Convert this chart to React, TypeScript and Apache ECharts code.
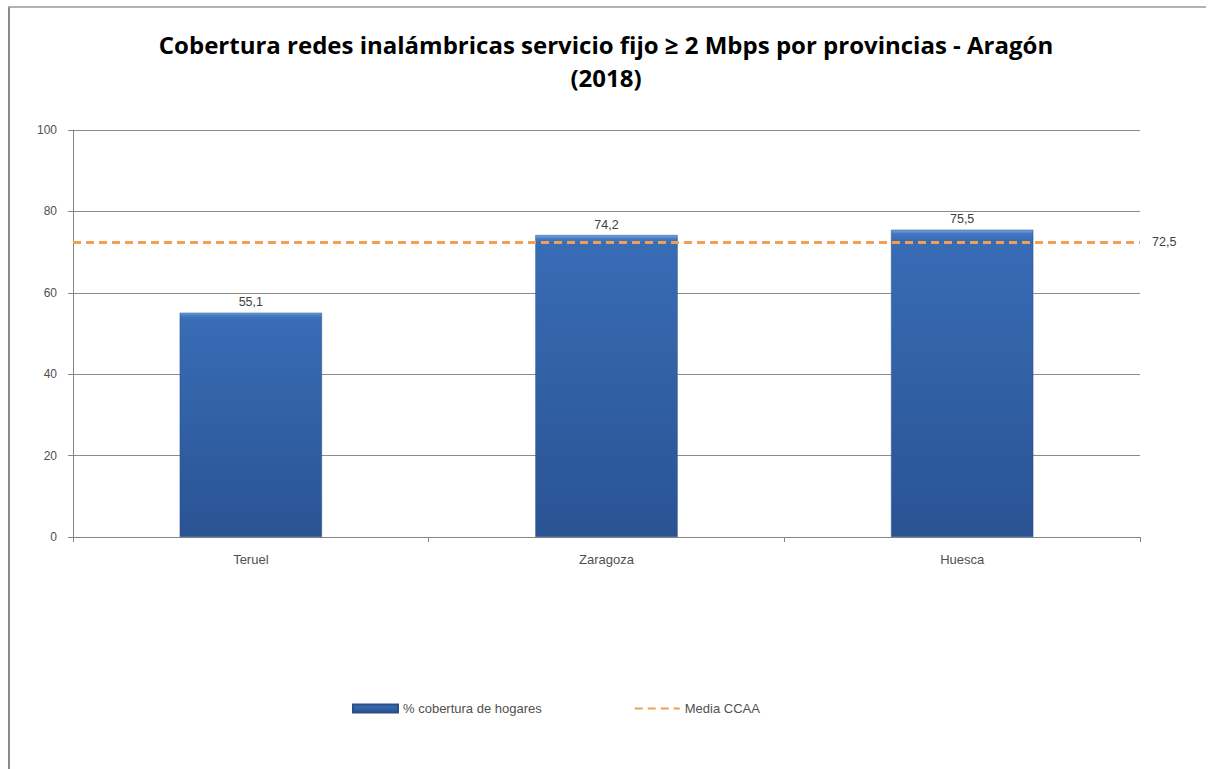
import React, { useEffect, useRef } from "react";
import * as echarts from "echarts";

const titleText = "Cobertura redes inalámbricas servicio fijo ≥ 2 Mbps por provincias - Aragón\n(2018)";
const provincias = ["Teruel", "Zaragoza", "Huesca"];
const cobertura = [55.1, 74.2, 75.5];
const mediaCCAA = 72.5;
const yTicks = [0, 20, 40, 60, 80, 100];
const barName = "% cobertura de hogares";
const lineName = "Media CCAA";

const fmt = (v: number) => v.toFixed(1).replace(".", ",");

export default function App() {
  const ref = useRef<HTMLDivElement>(null);
  useEffect(() => {
    if (!ref.current) return;
    const chart = echarts.init(ref.current, null, { renderer: "svg" });
    const font = "'Liberation Sans', Arial, sans-serif";
    chart.setOption({
      animation: false,
      backgroundColor: "#ffffff",
      textStyle: { fontFamily: font },
      title: {
        text: titleText,
        left: "center",
        top: 23,
        textStyle: {
          fontFamily: "'Open Sans', 'Liberation Sans', sans-serif",
          fontWeight: "bold",
          fontSize: 24,
          lineHeight: 33,
          color: "#000000",
        },
      },
      graphic: [
        { type: "line", shape: { x1: 9, y1: 7, x2: 9, y2: 769 }, style: { stroke: "#8a8a8a", lineWidth: 2 } },
        { type: "line", shape: { x1: 8, y1: 7, x2: 1206, y2: 7 }, style: { stroke: "#9a9a9a", lineWidth: 1.5 } },
      ],
      grid: { left: 73, right: 72, top: 130, bottom: 232, containLabel: false },
      legend: {
        left: 347,
        top: 697,
        itemGap: 92,
        itemWidth: 45,
        itemHeight: 8,
        textStyle: { fontSize: 13, color: "#505050", fontFamily: font },
        data: [
          { name: barName, icon: "rect" },
          { name: lineName, itemStyle: { opacity: 0 } },
        ],
      },
      xAxis: {
        type: "category",
        data: provincias,
        axisLine: { lineStyle: { color: "#868686", width: 1 } },
        axisTick: { show: true, alignWithLabel: false, length: 5, lineStyle: { color: "#868686" } },
        axisLabel: { fontSize: 13, color: "#505050", margin: 16 },
      },
      yAxis: {
        type: "value",
        min: yTicks[0],
        max: yTicks[yTicks.length - 1],
        interval: 20,
        axisLine: { show: true, lineStyle: { color: "#868686", width: 1 } },
        axisTick: { show: true, length: 5, lineStyle: { color: "#868686" } },
        axisLabel: { fontSize: 12, color: "#505050", margin: 16 },
        splitLine: { lineStyle: { color: "#8c8c8c", width: 1 } },
      },
      series: [
        {
          name: barName,
          type: "bar",
          data: cobertura,
          barWidth: "40%",
          itemStyle: {
            color: new echarts.graphic.LinearGradient(0, 0, 0, 1, [
              { offset: 0, color: "#78a6e4" },
              { offset: 0.012, color: "#4378c2" },
              { offset: 0.03, color: "#386cb5" },
              { offset: 1, color: "#2a5393" },
            ]),
            borderColor: "#2a4f86",
            borderWidth: 0.5,
          },
          label: {
            show: true,
            position: "top",
            distance: 4,
            fontSize: 12.5,
            color: "#404040",
            formatter: (p: any) => fmt(p.value),
          },
        },
        {
          name: lineName,
          type: "line",
          data: [],
          symbol: "none",
          lineStyle: { color: "#f0a050", width: 3, type: [8, 5] },
          itemStyle: { color: "#f0a050" },
          markLine: {
            silent: true,
            symbol: "none",
            lineStyle: { color: "#f0a050", width: 3, type: [8, 5] },
            label: {
              show: true,
              position: "end",
              distance: 12,
              fontSize: 12.5,
              color: "#404040",
              formatter: () => fmt(mediaCCAA),
            },
            data: [{ yAxis: mediaCCAA }],
          },
        },
      ],
    });
    return () => chart.dispose();
  }, []);
  return (
    <div
      ref={ref}
      style={{ position: "absolute", left: 0, top: 0, width: 1212, height: 769 }}
    />
  );
}
